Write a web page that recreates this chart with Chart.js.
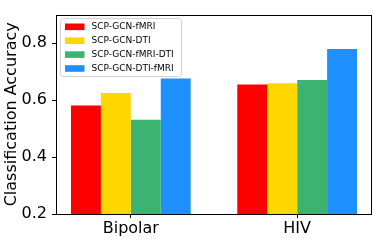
<!DOCTYPE html>
<html>
<head>
<meta charset="utf-8">
<script src="https://cdn.jsdelivr.net/npm/chart.js@4/dist/chart.umd.min.js"></script>
<style>
html,body{margin:0;padding:0;background:#fff;}
#wrap{width:382px;height:243px;position:relative;}
</style>
</head>
<body>
<div id="wrap"><canvas id="c" width="382" height="243"></canvas></div>
<script>
const categories = ["Bipolar", "HIV"];
const seriesNames = ["SCP-GCN-fMRI", "SCP-GCN-DTI", "SCP-GCN-fMRI-DTI", "SCP-GCN-DTI-fMRI"];
const fmriValues = [0.581, 0.655];
const dtiValues = [0.625, 0.659];
const fmriDtiValues = [0.531, 0.670];
const dtiFmriValues = [0.676, 0.779];
const yTicks = [0.2, 0.4, 0.6, 0.8];
const colors = ["#ff0000", "#ffd700", "#3cb371", "#1e90ff"];

const allValues = [fmriValues, dtiValues, fmriDtiValues, dtiFmriValues];
const FONT = "'DejaVu Sans', sans-serif";

const datasets = allValues.map((vals, i) => ({
  label: seriesNames[i],
  data: vals.map((v, j) => ({x: j, y: v})),
  backgroundColor: colors[i],
  borderWidth: 0,
  categoryPercentage: 0.72,
  barPercentage: 1.0
}));

const framePlugin = {
  id: 'frame',
  afterDatasetsDraw(chart) {
    const {ctx, chartArea: a} = chart;
    ctx.save();
    ctx.strokeStyle = '#000';
    ctx.lineWidth = 1;
    ctx.strokeRect(Math.round(a.left) + 0.5, Math.round(a.top) + 0.5,
      Math.round(a.right - a.left) - 1, Math.round(a.bottom - a.top));
    ctx.restore();
  }
};

const legendPlugin = {
  id: 'innerLegend',
  afterDraw(chart) {
    const {ctx, chartArea: a} = chart;
    const ds = chart.data.datasets;
    const x0 = a.left + 4.5, y0 = a.top + 4;
    const w = 121, h = 58;
    ctx.save();
    ctx.beginPath();
    const r = 3;
    ctx.moveTo(x0 + r, y0);
    ctx.arcTo(x0 + w, y0, x0 + w, y0 + h, r);
    ctx.arcTo(x0 + w, y0 + h, x0, y0 + h, r);
    ctx.arcTo(x0, y0 + h, x0, y0, r);
    ctx.arcTo(x0, y0, x0 + w, y0, r);
    ctx.closePath();
    ctx.fillStyle = 'rgba(255,255,255,0.8)';
    ctx.fill();
    ctx.strokeStyle = '#d0d0d0';
    ctx.lineWidth = 1;
    ctx.stroke();
    ctx.font = "9px " + FONT;
    ctx.textBaseline = 'middle';
    ctx.fillStyle = '#000';
    ds.forEach((d, i) => {
      const cy = y0 + 8.2 + i * 13.9;
      ctx.fillStyle = d.backgroundColor;
      ctx.fillRect(x0 + 4.5, cy - 3.3, 19.5, 6.6);
      ctx.fillStyle = '#000';
      ctx.fillText(d.label, x0 + 31, cy);
    });
    ctx.restore();
  }
};

new Chart(document.getElementById('c'), {
  type: 'bar',
  data: {datasets},
  options: {
    responsive: false,
    animation: false,
    events: [],
    layout: {padding: {top: 9, right: 10, left: 0, bottom: 0}},
    plugins: {legend: {display: false}, tooltip: {enabled: false}},
    scales: {
      x: {
        type: 'linear',
        min: -0.45,
        max: 1.45,
        offset: false,
        afterBuildTicks(s) { s.ticks = categories.map((c, i) => ({value: i})); },
        afterFit(s) { s.height = 29; },
        ticks: {
          callback: (v) => categories[v] !== undefined ? categories[v] : '',
          font: {family: FONT, size: 16},
          color: '#000',
          padding: 1,
          maxRotation: 0,
          autoSkip: false
        },
        grid: {offset: false, drawOnChartArea: false, drawTicks: true, tickLength: 4, color: '#000'},
        border: {display: false}
      },
      y: {
        min: 0.2,
        max: 0.9,
        afterBuildTicks(s) { s.ticks = yTicks.map(v => ({value: v})); },
        afterFit(s) { s.width = 56; },
        ticks: {
          callback: (v) => v.toFixed(1),
          font: {family: FONT, size: 16},
          color: '#000',
          padding: 5
        },
        grid: {drawOnChartArea: false, drawTicks: true, tickLength: 4, color: '#000'},
        border: {display: false},
        title: {
          display: true,
          text: 'Classification Accuracy',
          font: {family: FONT, size: 16},
          color: '#000',
          padding: {top: 2, bottom: 0}
        }
      }
    }
  },
  plugins: [framePlugin, legendPlugin]
});
</script>
</body>
</html>
